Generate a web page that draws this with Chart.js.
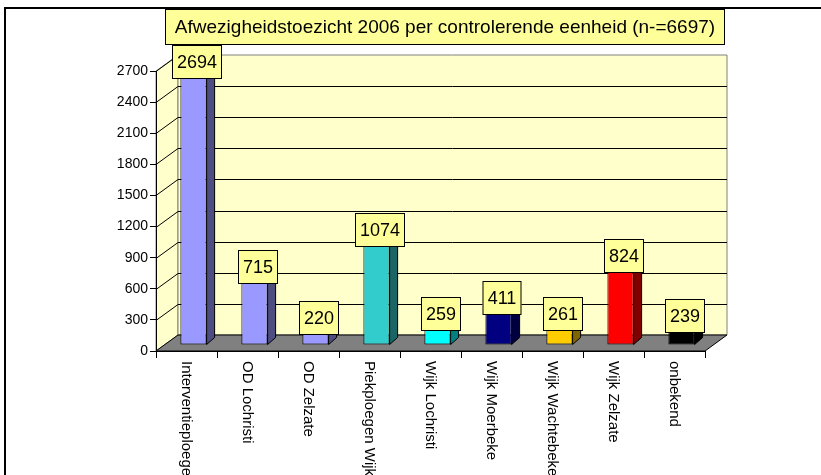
<!DOCTYPE html>
<html>
<head>
<meta charset="utf-8">
<title>Afwezigheidstoezicht 2006</title>
<script src="https://cdn.jsdelivr.net/npm/chart.js@4/dist/chart.umd.min.js"></script>
<style>
  body { margin: 0; background: #fff; }
  #wrap { position: relative; width: 821px; height: 475px; }
</style>
</head>
<body>
<div id="wrap">
  <canvas id="myChart" width="821" height="475"></canvas>
</div>
<script>
const chartTitle = 'Afwezigheidstoezicht 2006 per controlerende eenheid (n-=6697)';

const categories = [
  'Interventieploegen',
  'OD Lochristi',
  'OD Zelzate',
  'Piekploegen Wijk',
  'Wijk Lochristi',
  'Wijk Moerbeke',
  'Wijk Wachtebeke',
  'Wijk Zelzate',
  'onbekend'
];

const counts = [2694, 715, 220, 1074, 259, 411, 261, 824, 239];

const yTicks = [0, 300, 600, 900, 1200, 1500, 1800, 2100, 2400, 2700];

const frontColors = ['#9999FF', '#9999FF', '#9999FF', '#33CCCC', '#00FFFF', '#000080', '#FFCC00', '#FF0000', '#000000'];
const sideColors = ['#4D4D80', '#4D4D80', '#4D4D80', '#1A6666', '#008080', '#000040', '#806600', '#800000', '#000000'];

const font = "'Liberation Sans', Arial, sans-serif";

// depth of the walls and of the bars (fake 3d)
const wallDx = 22;
const wallDy = -16;
const barShiftX = 7;
const barShiftY = -6;
const barDx = 8;
const barDy = -7;

function poly(ctx, pts, fill, stroke) {
  ctx.beginPath();
  ctx.moveTo(pts[0][0], pts[0][1]);
  for (let i = 1; i < pts.length; i++) {
    ctx.lineTo(pts[i][0], pts[i][1]);
  }
  ctx.closePath();
  if (fill) {
    ctx.fillStyle = fill;
    ctx.fill();
  }
  if (stroke) {
    ctx.strokeStyle = stroke;
    ctx.lineWidth = 1;
    ctx.stroke();
  }
}

const excel3d = {
  id: 'excel3d',
  beforeDraw(chart) {
    const ctx = chart.ctx;
    const a = chart.chartArea;
    const y = chart.scales.y;

    // outer frame
    ctx.save();
    ctx.strokeStyle = '#000';
    ctx.lineWidth = 2;
    ctx.beginPath();
    ctx.moveTo(5, 480);
    ctx.lineTo(5, 8);
    ctx.lineTo(830, 8);
    ctx.stroke();

    // walls and floor
    const L = a.left, R = a.right, T = a.top, B = a.bottom;
    poly(ctx, [[L, T], [L + wallDx, T + wallDy], [L + wallDx, B + wallDy], [L, B]], '#FFFFCC', '#808080');
    poly(ctx, [[L + wallDx, T + wallDy], [R + wallDx, T + wallDy], [R + wallDx, B + wallDy], [L + wallDx, B + wallDy]], '#FFFFCC', '#808080');

    // gridlines
    ctx.strokeStyle = '#000';
    ctx.lineWidth = 1;
    for (let i = 1; i < yTicks.length; i++) {
      const py = Math.round(y.getPixelForValue(yTicks[i])) + 0.5;
      ctx.beginPath();
      ctx.moveTo(L, py);
      ctx.lineTo(L + wallDx, py + wallDy);
      if (i < yTicks.length - 1) {
        ctx.lineTo(R + wallDx, py + wallDy);
      }
      ctx.stroke();
    }

    poly(ctx, [[L, B], [L + wallDx, B + wallDy], [R + wallDx, B + wallDy], [R, B]], '#808080', '#000');
    ctx.restore();
  },
  beforeDatasetsDraw(chart) {
    chart.ctx.save();
    chart.ctx.translate(barShiftX, barShiftY);
  },
  afterDatasetsDraw(chart) {
    const ctx = chart.ctx;
    const bars = chart.getDatasetMeta(0).data;
    for (let i = 0; i < bars.length; i++) {
      const b = bars[i];
      const left = b.x - b.width / 2;
      const right = b.x + b.width / 2;
      poly(ctx, [[right, b.y], [right + barDx, b.y + barDy], [right + barDx, b.base + barDy], [right, b.base]], sideColors[i], '#000');
      poly(ctx, [[left, b.y], [left + barDx, b.y + barDy], [right + barDx, b.y + barDy], [right, b.y]], frontColors[i], '#000');
    }
    ctx.restore();
  },
  afterDraw(chart) {
    const ctx = chart.ctx;
    const bars = chart.getDatasetMeta(0).data;
    const xs = chart.scales.x;
    ctx.save();

    // value labels
    ctx.font = '18px ' + font;
    ctx.textAlign = 'center';
    ctx.textBaseline = 'middle';
    for (let i = 0; i < bars.length; i++) {
      const b = bars[i];
      const txt = String(counts[i]);
      const w = Math.round(ctx.measureText(txt).width + 10);
      const cx = Math.round(b.x + 10);
      const cy = Math.round(b.y - 10);
      ctx.fillStyle = '#FFFF99';
      ctx.fillRect(cx - w / 2, cy - 17, w, 34);
      ctx.strokeStyle = '#000';
      ctx.lineWidth = 1;
      ctx.strokeRect(cx - w / 2 + 0.5, cy - 17 + 0.5, w - 1, 33);
      ctx.fillStyle = '#000';
      ctx.fillText(txt, cx, cy + 1);
    }

    // category labels, rotated downwards
    ctx.font = '15px ' + font;
    ctx.textAlign = 'left';
    ctx.textBaseline = 'middle';
    ctx.fillStyle = '#000';
    for (let i = 0; i < categories.length; i++) {
      ctx.save();
      ctx.translate(xs.getPixelForTick(i), 361);
      ctx.rotate(Math.PI / 2);
      ctx.fillText(categories[i], 0, 0);
      ctx.restore();
    }

    // title box
    ctx.fillStyle = '#FFFF99';
    ctx.fillRect(165, 9, 560, 36);
    ctx.strokeStyle = '#000';
    ctx.strokeRect(165.5, 9.5, 559, 35);
    ctx.font = '19px ' + font;
    ctx.textAlign = 'center';
    ctx.fillStyle = '#000';
    ctx.fillText(chartTitle, 445, 28);
    ctx.restore();
  }
};

const ctx = document.getElementById('myChart').getContext('2d');

new Chart(ctx, {
  type: 'bar',
  data: {
    labels: categories,
    datasets: [
      {
        data: counts,
        backgroundColor: frontColors,
        borderColor: '#000',
        borderWidth: 1,
        borderSkipped: false,
        categoryPercentage: 1,
        barPercentage: 0.43
      }
    ]
  },
  options: {
    responsive: false,
    animation: false,
    layout: {
      padding: { left: 0, top: 71, right: 116, bottom: 0 }
    },
    plugins: {
      legend: { display: false },
      tooltip: { enabled: false },
      title: { display: false }
    },
    scales: {
      x: {
        grid: { offset: true, drawOnChartArea: false, drawTicks: true, tickLength: 7, color: '#000' },
        border: { color: '#000' },
        ticks: { display: false },
        afterFit(scale) {
          scale.height = 124;
        }
      },
      y: {
        min: 0,
        max: 2700,
        afterBuildTicks(scale) {
          scale.ticks = yTicks.map(v => ({ value: v }));
        },
        ticks: {
          color: '#000',
          font: { family: font, size: 14 },
          padding: 2,
          callback: v => String(v)
        },
        grid: { drawOnChartArea: false, tickLength: 6, color: '#000' },
        border: { color: '#000' },
        afterFit(scale) {
          scale.width = 156;
        }
      }
    }
  },
  plugins: [excel3d]
});
</script>
</body>
</html>
